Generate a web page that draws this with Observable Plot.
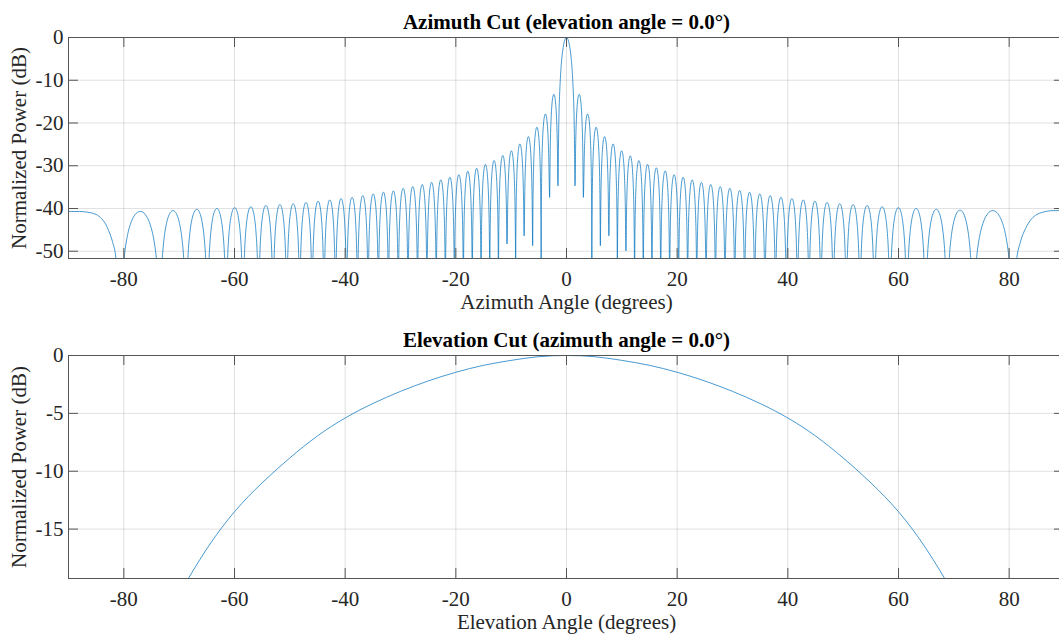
<!DOCTYPE html>
<html><head><meta charset="utf-8">
<script src="https://cdn.jsdelivr.net/npm/d3@7"></script>
<script src="https://cdn.jsdelivr.net/npm/@observablehq/plot@0.6"></script>
<style>
html,body{margin:0;padding:0;background:#fff;overflow:hidden;}
#wrap{width:1064px;}
svg{display:block;max-width:none !important;}
</style></head><body><div id="wrap"></div>
<script>
// ---------- tick values ----------
const xTicks = [-80, -60, -40, -20, 0, 20, 40, 60, 80];
const azYTicks = [-50, -40, -30, -20, -10, 0];
const elYTicks = [-15, -10, -5, 0];

// ---------- azimuth cut ----------
// null angles, ascending (deg)
const azNullLeft = [-80.6, -73.47, -68.76, -64.88, -61.50, -58.45, -55.64, -53.03, -50.56, -48.21, -45.97, -43.82, -41.74, -39.73, -37.77, -35.86, -34.00, -32.18, -30.40, -28.64, -26.92, -25.22, -23.54, -21.89, -20.26, -18.64, -17.03, -15.44, -13.87, -12.30, -10.74, -9.19, -7.65, -6.12, -4.58, -3.05, -1.53];
// depth at each null (dB); -70 = falls below the axis floor
const azNullDepthLeft = [-70, -70, -70, -70, -70, -70, -70, -70, -70, -70, -70, -70, -70, -70, -70, -70, -70, -70, -70, -70, -70, -70, -70, -70, -70, -70, -70, -70, -70, -70, -48.3, -70, -46.4, -48.7, -70, -37.4, -34.7];
// sidelobe peaks between consecutive nulls (dB)
const azPeakLeft = [-40.7, -40.5, -40.2, -40.0, -39.8, -39.6, -39.3, -39.1, -38.9, -38.6, -38.3, -38.0, -37.7, -37.4, -37.0, -36.6, -36.2, -35.9, -35.3, -34.9, -34.4, -33.9, -33.3, -32.7, -32.1, -31.3, -30.6, -29.7, -28.8, -27.6, -26.5, -24.9, -23.2, -21.0, -17.9, -13.3];

const azNullRight = [1.53, 3.05, 4.58, 6.12, 7.65, 9.19, 10.74, 12.30, 13.87, 15.44, 17.03, 18.64, 20.26, 21.89, 23.54, 25.22, 26.92, 28.64, 30.40, 32.18, 34.00, 35.86, 37.77, 39.73, 41.74, 43.82, 45.97, 48.21, 50.56, 53.03, 55.64, 58.45, 61.50, 64.88, 68.76, 73.47, 80.6];
const azNullDepthRight = [-34.7, -37.4, -70, -48.7, -46.4, -70, -49.9, -70, -70, -70, -70, -70, -70, -70, -70, -70, -70, -70, -70, -70, -70, -70, -70, -70, -70, -70, -70, -70, -70, -70, -70, -70, -70, -70, -70, -70, -70];
const azPeakRight = [-13.3, -17.9, -21.0, -23.2, -24.9, -26.5, -27.7, -28.8, -29.7, -30.5, -31.2, -32.1, -32.7, -33.3, -33.9, -34.4, -34.9, -35.3, -35.8, -36.2, -36.6, -37.0, -37.4, -37.7, -38.0, -38.3, -38.6, -38.9, -39.1, -39.3, -39.6, -39.8, -40.0, -40.2, -40.4, -40.5];

// main lobe
const mainAngle = [-1.53, -1.45, -1.38, -1.22, -1.07, -0.92, -0.77, -0.61, -0.46, -0.31, -0.15, 0, 0.15, 0.31, 0.46, 0.61, 0.77, 0.92, 1.07, 1.22, 1.38, 1.45, 1.53];
const mainDb = [-34.7, -25.6, -19.3, -12.6, -8.7, -5.9, -3.9, -2.4, -1.3, -0.6, -0.15, 0, -0.15, -0.6, -1.3, -2.4, -3.9, -5.9, -8.7, -12.6, -19.3, -25.6, -34.7];

// end-fire lobes at the plot edges
const edgeAngleLeft = [-90, -89, -88, -87, -86, -85, -84, -83.5, -83, -82.5, -82, -81.4, -80.6];
const edgeDbLeft = [-40.7, -40.7, -40.7, -40.8, -41.0, -41.4, -42.4, -43.2, -44.4, -46.0, -48.0, -52.0, -70];
const edgeAngleRight = [80.6, 81.3, 82.0, 82.5, 83.0, 83.5, 84.0, 85.0, 86.0, 87.0, 88.0, 89.0, 90.0];
const edgeDbRight = [-70, -52.5, -48.0, -46.0, -44.6, -43.4, -42.5, -41.4, -40.9, -40.6, -40.5, -40.5, -40.5];

// sidelobe outline read from a wide lobe: position across lobe, dB below its peak
const lobeFrac = [0.015, 0.03, 0.06, 0.10, 0.15, 0.20, 0.25, 0.30, 0.35, 0.40, 0.45, 0.50, 0.55, 0.60, 0.65, 0.70, 0.75, 0.80, 0.85, 0.90, 0.94, 0.97, 0.985];
const lobeRelDb = [-26.5, -20.5, -14.6, -10.2, -6.9, -4.6, -3.0, -1.8, -1.0, -0.4, -0.1, 0, -0.1, -0.4, -1.0, -1.8, -3.0, -4.6, -6.9, -10.2, -14.6, -20.5, -26.5];

// ---------- elevation cut ----------
const elAngle = [-70, -65, -60, -55, -50, -45, -40, -35, -30, -25, -20, -15, -10, -5, 0, 5, 10, 15, 20, 25, 30, 35, 40, 45, 50, 55, 60, 65, 70];
const elDb = [-20.6, -16.7, -13.5, -11.0, -8.85, -6.95, -5.4, -4.15, -3.1, -2.2, -1.45, -0.85, -0.42, -0.1, 0, -0.1, -0.42, -0.85, -1.45, -2.2, -3.1, -4.15, -5.4, -6.95, -8.85, -11.0, -13.5, -16.7, -20.6];

// ---------- build azimuth polyline ----------
function buildSide(nulls, depths, peaks) {
  const pts = [];
  for (let i = 0; i < peaks.length; i++) {
    const a = nulls[i], b = nulls[i + 1];
    pts.push({x: a, y: depths[i]});
    lobeFrac.forEach((f, j) => {
      const v = peaks[i] + lobeRelDb[j];
      const lim = f < 0.5 ? depths[i] : depths[i + 1];
      if (v > lim) pts.push({x: a + f * (b - a), y: v});
    });
  }
  pts.push({x: nulls[nulls.length - 1], y: depths[depths.length - 1]});
  return pts;
}
const zip = (xs, ys) => xs.map((x, i) => ({x, y: ys[i]}));
const azRaw = [
  ...zip(edgeAngleLeft, edgeDbLeft),
  ...buildSide(azNullLeft, azNullDepthLeft, azPeakLeft),
  ...zip(mainAngle, mainDb),
  ...buildSide(azNullRight, azNullDepthRight, azPeakRight),
  ...zip(edgeAngleRight, edgeDbRight)
];
const azData = [];
for (const p of azRaw) {
  if (azData.length && Math.abs(azData[azData.length - 1].x - p.x) < 1e-9) continue;
  azData.push(p);
}
const elData = zip(elAngle, elDb);

const FONT = "'Liberation Serif', 'Times New Roman', serif";
const W = 1064, ML = 68, MR = 0;
const LINE = "#0072BD";
const GRID = {stroke: "#000", strokeOpacity: 0.12, strokeWidth: 1};
const AXC = "#555";

function panel({data, yDomain, yTicks, height, mt, mb, title, xlabel, curve}) {
  const fh = height - mt - mb, fw = W - ML - MR;
  return Plot.plot({
    width: W, height, marginLeft: ML, marginRight: MR, marginTop: mt, marginBottom: mb,
    style: {fontFamily: FONT, fontSize: "21px", color: "#262626", background: "#fff", overflow: "visible"},
    x: {domain: [-90, 90]},
    y: {domain: yDomain},
    marks: [
      Plot.gridX(xTicks, GRID),
      Plot.gridY(yTicks, GRID),
      Plot.line(data, {x: "x", y: "y", stroke: LINE, strokeOpacity: 0.8, strokeWidth: 0.9, curve, clip: true}),
      Plot.frame({stroke: AXC, strokeWidth: 1}),
      Plot.tickX(xTicks, {x: d => d, insetTop: fh - 10, stroke: AXC}),
      Plot.tickX(xTicks, {x: d => d, insetBottom: fh - 10, stroke: AXC}),
      Plot.tickY(yTicks, {y: d => d, insetRight: fw - 10, stroke: AXC}),
      Plot.tickY(yTicks, {y: d => d, insetLeft: fw - 10, stroke: AXC}),
      Plot.axisX(xTicks, {anchor: "bottom", tickSize: 0, tickPadding: 13, tickFormat: d => String(d), label: null, fontSize: 21}),
      Plot.axisY(yTicks, {anchor: "left", tickSize: 0, tickPadding: 5, tickFormat: d => String(d), label: null, fontSize: 21}),
      Plot.text([title], {frameAnchor: "top", lineAnchor: "bottom", dy: -9, fontWeight: "bold", fontSize: 21, fill: "#000"}),
      Plot.text([xlabel], {frameAnchor: "bottom", lineAnchor: "bottom", dy: 50, fontSize: 21}),
      Plot.text(["Normalized Power (dB)"], {frameAnchor: "left", textAnchor: "middle", lineAnchor: "bottom", rotate: -90, dx: -42.5, fontSize: 21})
    ]
  });
}

const wrap = document.getElementById("wrap");
wrap.appendChild(panel({
  data: azData, yDomain: [-51.7, 0], yTicks: azYTicks, height: 320, mt: 37, mb: 62,
  title: "Azimuth Cut (elevation angle = 0.0\u00B0)", xlabel: "Azimuth Angle (degrees)", curve: "monotone-x"
}));
wrap.appendChild(panel({
  data: elData, yDomain: [-19.27, 0], yTicks: elYTicks, height: 316, mt: 35, mb: 58,
  title: "Elevation Cut (azimuth angle = 0.0\u00B0)", xlabel: "Elevation Angle (degrees)", curve: "natural"
}));
</script></body></html>
